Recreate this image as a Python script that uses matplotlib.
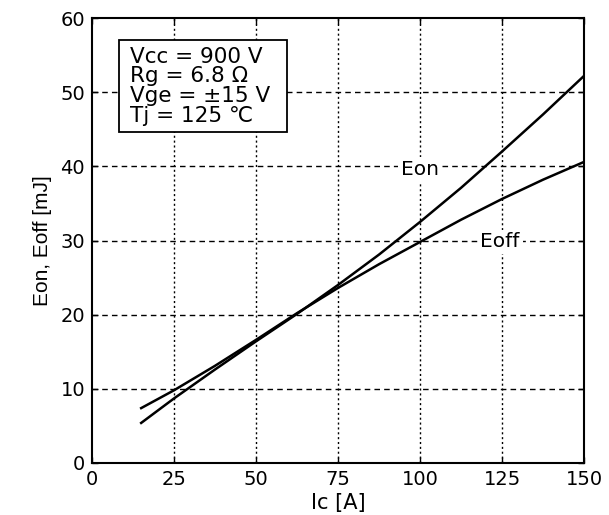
import matplotlib.pyplot as plt
import matplotlib.patches as mpatches
import numpy as np

plt.rcParams['font.family'] = ['DejaVu Sans']

# collector current [A]
ic = [15, 25, 37.5, 50, 62.5, 75, 87.5, 100, 112.5, 125, 137.5, 150]
# switching energies [mJ]
eon = [5.4, 8.7, 12.6, 16.4, 20.1, 24.0, 28.1, 32.5, 37.1, 42.0, 47.0, 52.2]
eoff = [7.4, 9.8, 13.1, 16.6, 20.2, 23.6, 26.8, 29.8, 32.8, 35.6, 38.2, 40.6]

xticks = [0, 25, 50, 75, 100, 125, 150]
yticks = [0, 10, 20, 30, 40, 50, 60]
cond = 'Vcc = 900 V\nRg = 6.8 Ω\nVge = ±15 V\nTj = 125 ℃'

fig = plt.figure(figsize=(6.09, 5.15), dpi=100)
ax = fig.add_axes([0.151, 0.101, 0.808, 0.864])

ax.plot(ic, eon, color='k', lw=1.8, zorder=3)
ax.plot(ic, eoff, color='k', lw=1.8, zorder=3)

ax.set_xlim(0, 150)
ax.set_ylim(0, 60)
ax.set_xticks(xticks)
ax.set_yticks(yticks)

# horizontal dashed, vertical dotted grid
for y in yticks[1:-1]:
    ax.axhline(y, color='k', lw=1, ls=(0, (4, 3)), zorder=1)
for x in xticks[1:-1]:
    ax.axvline(x, color='k', lw=1, ls=(0, (1.5, 2)), zorder=1)

for s in ax.spines.values():
    s.set_linewidth(1.5)
ax.tick_params(direction='in', length=4, width=1, labelsize=14, pad=5,
               top=True, right=True)

ax.set_xlabel('Ic [A]', fontsize=15, labelpad=3)
ax.set_ylabel('Eon, Eoff [mJ]', fontsize=15, labelpad=6, family='Liberation Sans')

ax.text(100, 39.6, 'Eon', fontsize=14.5, ha='center', va='center', zorder=2,
        bbox=dict(facecolor='white', edgecolor='none', pad=2))
ax.text(124.4, 29.8, 'Eoff', fontsize=14.5, ha='center', va='center', zorder=2,
        bbox=dict(facecolor='white', edgecolor='none', pad=2))

# conditions box
box = mpatches.Rectangle((0.055, 0.744), 0.341, 0.207, transform=ax.transAxes,
                         facecolor='white', edgecolor='k', lw=1.3, zorder=4)
ax.add_patch(box)
ax.text(0.077, 0.935, cond, transform=ax.transAxes, fontsize=15.5, ha='left', va='top',
        linespacing=0.97, zorder=5)

fig.savefig('out.png')
